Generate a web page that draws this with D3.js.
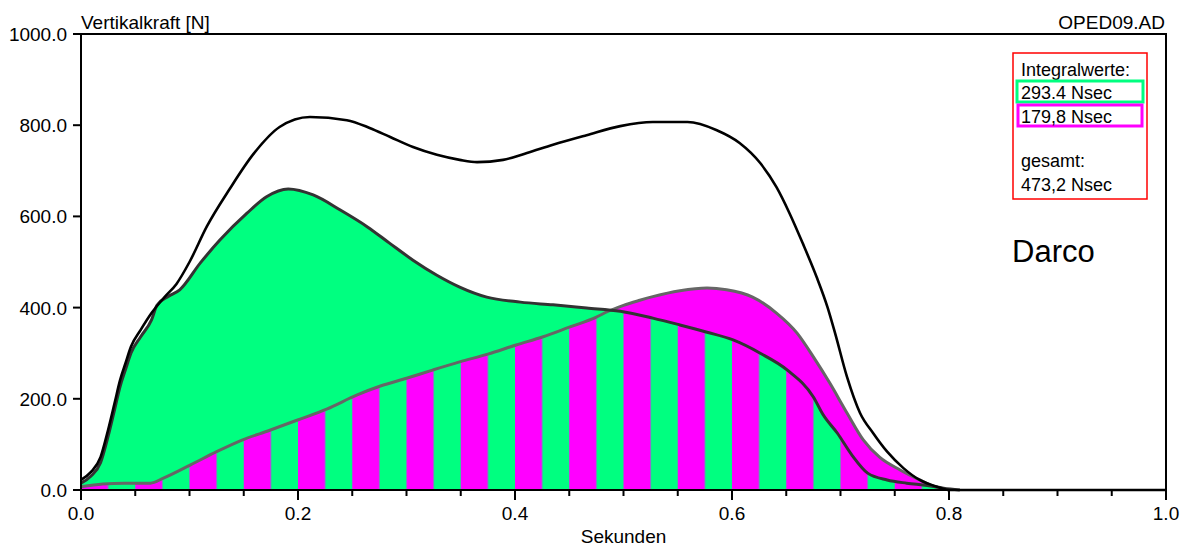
<!DOCTYPE html>
<html>
<head>
<meta charset="utf-8">
<script src="https://cdn.jsdelivr.net/npm/d3@7"></script>
<style>
  body { margin: 0; background: #fff; }
  svg { display: block; font-family: "Liberation Sans", Arial, sans-serif; }
</style>
</head>
<body>
<div id="chart"></div>
<script>
// force plate: vertical force of both feet and their sum

// total force (black line), [time s, N]
const totalForce = [
  [0.000, 22], [0.009, 39], [0.018, 72], [0.025, 132], [0.031, 191], [0.036, 241],
  [0.041, 278], [0.046, 314], [0.055, 351], [0.065, 388], [0.077, 423], [0.088, 452],
  [0.100, 500], [0.116, 578], [0.137, 660], [0.159, 737], [0.183, 796], [0.211, 818],
  [0.245, 811], [0.266, 794], [0.285, 774], [0.306, 752], [0.328, 735], [0.349, 724],
  [0.365, 719], [0.389, 724], [0.411, 739], [0.435, 757], [0.466, 778], [0.497, 798],
  [0.527, 807], [0.559, 807], [0.586, 789], [0.607, 761], [0.626, 717], [0.641, 664],
  [0.653, 607], [0.665, 542], [0.678, 467], [0.688, 401], [0.695, 344], [0.706, 248],
  [0.718, 169], [0.730, 125], [0.743, 84], [0.758, 48], [0.773, 22], [0.789, 7],
  [0.801, 0], [1.000, 0]
];

// first foot (green)
const footOne = [
  [0.000, 15], [0.009, 30], [0.018, 60], [0.025, 118], [0.031, 177], [0.036, 227],
  [0.041, 264], [0.046, 300], [0.055, 336], [0.065, 373], [0.070, 405], [0.080, 424],
  [0.091, 439], [0.110, 498], [0.128, 548], [0.153, 607], [0.171, 643], [0.191, 660],
  [0.214, 647], [0.239, 614], [0.264, 577], [0.284, 542], [0.306, 504], [0.328, 471],
  [0.349, 445], [0.374, 423], [0.405, 412], [0.435, 406], [0.466, 399], [0.497, 392],
  [0.527, 377], [0.552, 362], [0.577, 346], [0.601, 329], [0.626, 300], [0.651, 263],
  [0.675, 204], [0.684, 165], [0.697, 125], [0.711, 75], [0.725, 37], [0.743, 22],
  [0.761, 15], [0.780, 10], [0.795, 4], [0.810, 0]
];

// second foot (magenta)
const footTwo = [
  [0.000, 7], [0.020, 13], [0.040, 15], [0.064, 15], [0.076, 26], [0.101, 55],
  [0.125, 84], [0.149, 110], [0.174, 131], [0.199, 153], [0.227, 178], [0.254, 208],
  [0.276, 228], [0.300, 245], [0.324, 263], [0.349, 281], [0.375, 298], [0.401, 318],
  [0.426, 336], [0.450, 357], [0.475, 379], [0.485, 391], [0.500, 405], [0.515, 416],
  [0.527, 424], [0.552, 437], [0.577, 443], [0.595, 439], [0.619, 423], [0.641, 388],
  [0.660, 344], [0.675, 292], [0.690, 235], [0.706, 169], [0.721, 110], [0.736, 72],
  [0.755, 44], [0.773, 22], [0.785, 9], [0.800, 0]
];

const yTicks = [0, 200, 400, 600, 800, 1000];
const xMajorTicks = [0, 0.2, 0.4, 0.6, 0.8, 1.0];
const legendTitle = "Integralwerte:";
const legendValues = ["293.4 Nsec", "179,8 Nsec"];
const totalLabel = ["gesamt:", "473,2 Nsec"];
const subjectName = "Darco";
const fileName = "OPED09.AD";

const width = 1191, height = 548;
const green = "#00ff80", magenta = "#ff00ff";
const stripeWidth = 0.025; // seconds

const x = d3.scaleLinear().domain([0, 1]).range([81, 1166]);
const y = d3.scaleLinear().domain([0, 1000]).range([490, 34]);

const svg = d3.select("#chart").append("svg")
  .attr("width", width)
  .attr("height", height)
  .style("font-size", "19px");

const area = d3.area()
  .x(d => x(d[0]))
  .y0(y(0))
  .y1(d => y(d[1]))
  .curve(d3.curveMonotoneX);

const line = d3.line()
  .x(d => x(d[0]))
  .y(d => y(d[1]))
  .curve(d3.curveMonotoneX);

const defs = svg.append("defs");

// alternating bands for the part where both feet load
const stripeW = x(stripeWidth) - x(0);
const pattern = defs.append("pattern")
  .attr("id", "bands")
  .attr("patternUnits", "userSpaceOnUse")
  .attr("x", x(0))
  .attr("y", 0)
  .attr("width", stripeW * 2)
  .attr("height", height);
pattern.append("rect").attr("width", stripeW).attr("height", height).attr("fill", magenta);
pattern.append("rect").attr("x", stripeW).attr("width", stripeW).attr("height", height).attr("fill", green);

defs.append("clipPath").attr("id", "underOne")
  .append("path").attr("d", area(footOne));

svg.append("path").attr("d", area(footOne)).attr("fill", green);
svg.append("path").attr("d", area(footTwo)).attr("fill", magenta);
svg.append("path").attr("d", area(footTwo))
  .attr("fill", "url(#bands)")
  .attr("clip-path", "url(#underOne)");

svg.append("path").attr("d", line(footTwo))
  .attr("fill", "none").attr("stroke", "#666").attr("stroke-width", 3);
svg.append("path").attr("d", line(footOne))
  .attr("fill", "none").attr("stroke", "#333").attr("stroke-width", 3);
svg.append("path").attr("d", line(totalForce))
  .attr("fill", "none").attr("stroke", "#000").attr("stroke-width", 2.6);

// frame
const frame = svg.append("g").attr("stroke", "#000").attr("stroke-width", 2).attr("fill", "none");
frame.append("path")
  .attr("d", `M${x(0)},${y(0)}V${y(1000)}H${x(1)}V${y(0)}Z`);

// y axis
const yAxis = svg.append("g");
yAxis.selectAll("line").data(yTicks).join("line")
  .attr("x1", x(0) - 8).attr("x2", x(0))
  .attr("y1", d => y(d)).attr("y2", d => y(d))
  .attr("stroke", "#000").attr("stroke-width", 2);
yAxis.selectAll("text").data(yTicks).join("text")
  .attr("x", x(0) - 14)
  .attr("y", d => y(d) + 7)
  .attr("text-anchor", "end")
  .text(d => d3.format(".1f")(d));

// x axis
const xAxis = svg.append("g");
xAxis.selectAll("line").data(d3.range(0, 21).map(i => i * 0.05)).join("line")
  .attr("x1", d => x(d)).attr("x2", d => x(d))
  .attr("y1", y(0))
  .attr("y2", (d, i) => y(0) + (i % 4 === 0 ? 10 : 6))
  .attr("stroke", "#000").attr("stroke-width", 2);
xAxis.selectAll("text").data(xMajorTicks).join("text")
  .attr("x", d => x(d))
  .attr("y", 520)
  .attr("text-anchor", "middle")
  .text(d => d3.format(".1f")(d));

svg.append("text").attr("x", x(0.5)).attr("y", 543)
  .attr("text-anchor", "middle").text("Sekunden");
svg.append("text").attr("x", x(0)).attr("y", 29).text("Vertikalkraft [N]");
svg.append("text").attr("x", x(1) - 1).attr("y", 29)
  .attr("text-anchor", "end").text(fileName);

// legend box
const legend = svg.append("g").style("font-size", "18px");
legend.append("rect").attr("x", 1013).attr("y", 53).attr("width", 134).attr("height", 146)
  .attr("fill", "#fff").attr("stroke", "#ff0000").attr("stroke-width", 1.5);
legend.append("text").attr("x", 1021).attr("y", 76).text(legendTitle);
legend.append("rect").attr("x", 1017).attr("y", 81).attr("width", 126).attr("height", 21)
  .attr("fill", "none").attr("stroke", green).attr("stroke-width", 3);
legend.append("rect").attr("x", 1018).attr("y", 105).attr("width", 124).attr("height", 21)
  .attr("fill", "none").attr("stroke", magenta).attr("stroke-width", 3);
legend.selectAll("text.val").data(legendValues).join("text")
  .attr("class", "val")
  .attr("x", 1021)
  .attr("y", (d, i) => 99 + i * 24)
  .text(d => d);
legend.selectAll("text.tot").data(totalLabel).join("text")
  .attr("class", "tot")
  .attr("x", 1021)
  .attr("y", (d, i) => 167 + i * 24)
  .text(d => d);

svg.append("text").attr("x", 1012).attr("y", 262)
  .style("font-size", "31px").text(subjectName);
</script>
</body>
</html>
